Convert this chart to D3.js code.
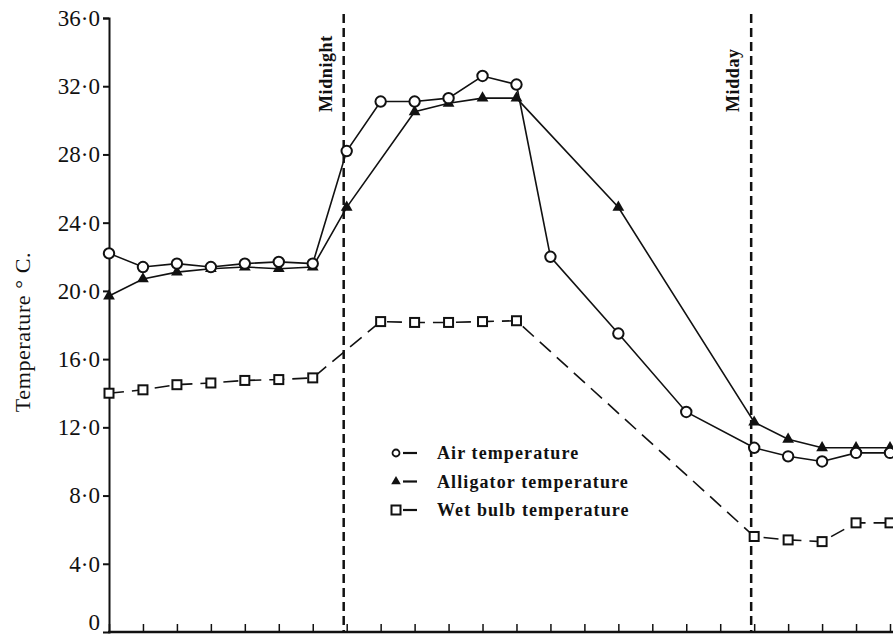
<!DOCTYPE html>
<html>
<head>
<meta charset="utf-8">
<script src="https://cdn.jsdelivr.net/npm/d3@7"></script>
<style>
  html, body { margin: 0; padding: 0; background: #fff; }
  svg { display: block; }
  text { font-family: "Liberation Serif", "DejaVu Serif", serif; fill: #111; }
</style>
</head>
<body>
<svg id="chart" width="893" height="636"></svg>
<script>
// hour index: 0 = 5 p.m., 7 = midnight, 19 = midday
var hours = d3.range(0, 24);
var yTicks = [0, 4, 8, 12, 16, 20, 24, 28, 32, 36];

var airHours = [0, 1, 2, 3, 4, 5, 6, 7, 8, 9, 10, 11, 12, 13, 15, 17, 19, 20, 21, 22, 23];
var airTemp  = [22.2, 21.4, 21.6, 21.4, 21.6, 21.7, 21.6, 28.2, 31.1, 31.1, 31.3, 32.6, 32.1, 22.0, 17.5, 12.9, 10.8, 10.3, 10.0, 10.5, 10.5];

var gatorHours = [0, 1, 2, 3, 4, 5, 6, 7, 9, 10, 11, 12, 15, 19, 20, 21, 22, 23];
var gatorTemp  = [19.7, 20.7, 21.1, 21.3, 21.4, 21.3, 21.4, 24.9, 30.5, 31.0, 31.3, 31.3, 24.9, 12.3, 11.3, 10.8, 10.8, 10.8];

var wetHours = [0, 1, 2, 3, 4, 5, 6, 8, 9, 10, 11, 12, 19, 20, 21, 22, 23];
var wetTemp  = [14.0, 14.2, 14.5, 14.6, 14.75, 14.8, 14.9, 18.2, 18.15, 18.15, 18.2, 18.25, 5.6, 5.4, 5.3, 6.4, 6.4];

var markers = [
  { hour: 7, label: "Midnight" },
  { hour: 19, label: "Midday" }
];
var legendItems = ["Air temperature", "Alligator temperature", "Wet bulb temperature"];

function zip(h, v) {
  return h.map(function (d, i) { return { h: d, v: v[i] }; });
}

var svg = d3.select("#chart");

var x = d3.scaleLinear().domain([0, 23]).range([109, 890]);
var y = d3.scaleLinear().domain([0, 36]).range([632, 18]);

var fmt = function (d) { return d === 0 ? "0" : d.toFixed(1).replace(".", "\u00b7"); };

// y axis
var yAxis = svg.append("g")
  .attr("class", "Yaxis")
  .attr("transform", "translate(" + x(0) + ",0)")
  .call(d3.axisLeft(y).tickValues(yTicks).tickFormat(fmt).tickSize(6).tickPadding(3));
yAxis.select(".domain").attr("stroke", "#111").attr("stroke-width", 2);
yAxis.selectAll(".tick line").attr("stroke", "#111").attr("stroke-width", 2);
yAxis.selectAll(".tick text")
  .attr("font-size", 23)
  .attr("font-family", "\"Liberation Serif\", serif")
  .attr("fill", "#111");
// the zero label sits a little above the base line
yAxis.selectAll(".tick").filter(function (d) { return d === 0; })
  .select("text").attr("y", -10);
yAxis.selectAll(".tick").filter(function (d) { return d === 0; })
  .select("line").remove();

// x axis (ticks pointing up, no labels)
var xAxis = svg.append("g")
  .attr("class", "Xaxis")
  .attr("transform", "translate(0," + y(0) + ")")
  .call(d3.axisBottom(x).tickValues(hours).tickFormat("").tickSizeInner(-8).tickSizeOuter(0));
xAxis.select(".domain").attr("stroke", "#111").attr("stroke-width", 2.5)
  .attr("d", "M" + (x(0) - 1) + ",0H893");
xAxis.selectAll(".tick line").attr("stroke", "#111").attr("stroke-width", 1.5);

// axis title
svg.append("text")
  .attr("transform", "translate(30," + 332 + ") rotate(-90)")
  .attr("text-anchor", "middle")
  .attr("font-size", 22)
  .attr("letter-spacing", 0.6)
  .text("Temperature \u00b0 C.");

// midnight / midday lines
var mk = svg.append("g").selectAll("g")
  .data(markers)
  .enter().append("g");
mk.append("line")
  .attr("x1", function (d) { return x(d.hour) - 3; })
  .attr("x2", function (d) { return x(d.hour) - 3; })
  .attr("y1", 14)
  .attr("y2", y(0))
  .attr("stroke", "#111")
  .attr("stroke-width", 2.5)
  .attr("stroke-dasharray", "9,5");
mk.append("text")
  .attr("transform", function (d) { return "translate(" + (x(d.hour) - 15) + ",112) rotate(-90)"; })
  .attr("text-anchor", "start")
  .attr("font-size", 18)
  .attr("font-weight", "bold")
  .attr("letter-spacing", 0.6)
  .text(function (d) { return d.label; });

var line = d3.line()
  .x(function (d) { return x(d.h); })
  .y(function (d) { return y(d.v); });

var air = zip(airHours, airTemp);
var gator = zip(gatorHours, gatorTemp);
var wet = zip(wetHours, wetTemp);

svg.append("path").datum(gator)
  .attr("fill", "none").attr("stroke", "#111").attr("stroke-width", 1.6)
  .attr("d", line);
svg.append("path").datum(air)
  .attr("fill", "none").attr("stroke", "#111").attr("stroke-width", 1.6)
  .attr("d", line);
svg.append("path").datum(wet)
  .attr("fill", "none").attr("stroke", "#111").attr("stroke-width", 1.6)
  .attr("stroke-dasharray", "15,8")
  .attr("d", line);

var tri = d3.symbol().type(d3.symbolTriangle).size(60);

// markers
svg.append("g").selectAll("path")
  .data(gator)
  .enter().append("path")
  .attr("transform", function (d) { return "translate(" + x(d.h) + "," + y(d.v) + ")"; })
  .attr("d", tri)
  .attr("fill", "#111");

svg.append("g").selectAll("circle")
  .data(air)
  .enter().append("circle")
  .attr("cx", function (d) { return x(d.h); })
  .attr("cy", function (d) { return y(d.v); })
  .attr("r", 5.2)
  .attr("fill", "#fff")
  .attr("stroke", "#111")
  .attr("stroke-width", 2);

svg.append("g").selectAll("rect")
  .data(wet)
  .enter().append("rect")
  .attr("x", function (d) { return x(d.h) - 4.5; })
  .attr("y", function (d) { return y(d.v) - 4.5; })
  .attr("width", 9)
  .attr("height", 9)
  .attr("fill", "#fff")
  .attr("stroke", "#111")
  .attr("stroke-width", 2);

// legend
var lg = svg.append("g")
  .selectAll("g")
  .data(legendItems)
  .enter().append("g")
  .attr("transform", function (d, i) { return "translate(396," + (453 + i * 28.5) + ")"; });

lg.append("line")
  .attr("x1", 7).attr("x2", 21).attr("y1", 0).attr("y2", 0)
  .attr("stroke", "#111").attr("stroke-width", 2.2);
lg.append("text")
  .attr("x", 41)
  .attr("y", 6)
  .attr("font-size", 18)
  .attr("font-weight", "bold")
  .attr("letter-spacing", 1.1)
  .text(function (d) { return d; });

lg.filter(function (d, i) { return i === 0; }).append("circle")
  .attr("r", 3.5).attr("fill", "#fff").attr("stroke", "#111").attr("stroke-width", 1.8);
lg.filter(function (d, i) { return i === 1; }).append("path")
  .attr("d", d3.symbol().type(d3.symbolTriangle).size(40)).attr("fill", "#111");
lg.filter(function (d, i) { return i === 2; }).append("rect")
  .attr("x", -4.5).attr("y", -4.5).attr("width", 9).attr("height", 9)
  .attr("fill", "#fff").attr("stroke", "#111").attr("stroke-width", 2);
</script>
</body>
</html>
